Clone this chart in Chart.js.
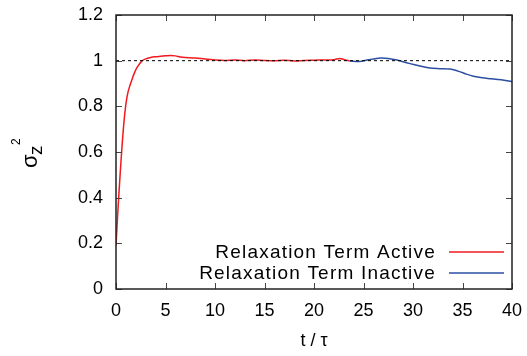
<!DOCTYPE html>
<html>
<head>
<meta charset="utf-8">
<script src="https://cdn.jsdelivr.net/npm/chart.js@4.4.0/dist/chart.umd.min.js"></script>
<style>
  html, body { margin: 0; padding: 0; background: #fff; }
</style>
</head>
<body>
<canvas id="myChart" width="527" height="356"></canvas>
<script>
// relaxation term active (red)
var tActive = [0, 0.2, 0.4, 0.6, 0.8, 1.0, 1.2, 1.4, 1.6, 1.8, 2.1, 2.6, 3, 3.5, 4, 4.5, 5, 5.5, 6, 6.5, 7, 8, 9, 10, 11, 12, 13, 14, 15, 16, 17, 18, 19, 20, 21, 22, 22.6, 23, 23.6];
var sActive = [0.19, 0.35, 0.49, 0.62, 0.73, 0.81, 0.86, 0.89, 0.915, 0.94, 0.968, 0.998, 1.008, 1.014, 1.017, 1.019, 1.021, 1.023, 1.021, 1.016, 1.014, 1.012, 1.007, 1.003, 1.001, 1.003, 1.0, 1.003, 1.001, 1.0, 1.002, 0.999, 1.001, 1.002, 1.003, 1.004, 1.01, 1.005, 0.999];
// relaxation term inactive (blue)
var tInactive = [23.6, 24.6, 25.5, 26.7, 27.5, 28.4, 29.0, 29.7, 30.7, 31.7, 32.7, 33.7, 34.7, 35.4, 36.1, 37.0, 37.9, 38.9, 40];
var sInactive = [0.999, 0.996, 1.004, 1.012, 1.010, 1.003, 0.995, 0.987, 0.977, 0.968, 0.965, 0.963, 0.952, 0.941, 0.932, 0.925, 0.921, 0.916, 0.908];
// reference line
var tRef = [0, 40];
var sRef = [1, 1];

var xTicks = [0, 5, 10, 15, 20, 25, 30, 35, 40];
var yTicks = [0, 0.2, 0.4, 0.6, 0.8, 1.0, 1.2];

function pts(xs, ys) {
  return xs.map(function (x, i) { return {x: x, y: ys[i]}; });
}

var FONT = '"Liberation Sans", Arial, sans-serif';

// frame + inward ticks on all four sides
var framePlugin = {
  id: 'frame',
  afterDatasetsDraw: function (chart) {
    var ctx = chart.ctx, a = chart.chartArea;
    var xs = chart.scales.x, ys = chart.scales.y;
    ctx.save();
    ctx.strokeStyle = '#444';
    ctx.lineWidth = 1;
    ctx.beginPath();
    xTicks.forEach(function (v) {
      var px = Math.round(xs.getPixelForValue(v)) + 0.5;
      ctx.moveTo(px, a.bottom); ctx.lineTo(px, a.bottom - 6);
      ctx.moveTo(px, a.top); ctx.lineTo(px, a.top + 6);
    });
    yTicks.forEach(function (v) {
      var py = Math.round(ys.getPixelForValue(v)) + 0.5;
      ctx.moveTo(a.left, py); ctx.lineTo(a.left + 6, py);
      ctx.moveTo(a.right, py); ctx.lineTo(a.right - 6, py);
    });
    ctx.stroke();
    ctx.strokeStyle = '#222';
    ctx.lineWidth = 1.5;
    ctx.strokeRect(a.left, a.top, a.right - a.left, a.bottom - a.top);
    ctx.restore();
  }
};

// gnuplot style key: text right aligned, sample line after it
var keyPlugin = {
  id: 'key',
  afterDraw: function (chart) {
    var ctx = chart.ctx, a = chart.chartArea;
    var items = chart.data.datasets.filter(function (d) { return d.label; });
    ctx.save();
    ctx.font = '19px ' + FONT;
    ctx.letterSpacing = '1.2px';
    ctx.textAlign = 'right';
    ctx.textBaseline = 'middle';
    items.forEach(function (d, i) {
      var y = a.bottom - 37 + i * 21;
      ctx.fillStyle = '#000';
      ctx.fillText(d.label, a.right - 76, y + 1);
      ctx.strokeStyle = d.borderColor;
      ctx.lineWidth = 1.5;
      ctx.beginPath();
      ctx.moveTo(a.right - 63, y);
      ctx.lineTo(a.right - 8, y);
      ctx.stroke();
    });
    ctx.restore();
  }
};

// y axis title: sigma with z subscript and 2 superscript, rotated
var yTitlePlugin = {
  id: 'ytitle',
  afterDraw: function (chart) {
    var ctx = chart.ctx;
    ctx.save();
    ctx.translate(37, 168);
    ctx.rotate(-Math.PI / 2);
    ctx.fillStyle = '#000';
    ctx.textAlign = 'left';
    ctx.textBaseline = 'alphabetic';
    ctx.font = '22px ' + FONT;
    ctx.fillText('σ', 0, 0);
    ctx.font = '19px ' + FONT;
    ctx.fillText('z', 13, 5);
    ctx.font = '12px ' + FONT;
    ctx.fillText('2', 23, -17);
    ctx.restore();
  }
};

var ctx = document.getElementById('myChart').getContext('2d');
var myChart = new Chart(ctx, {
  type: 'scatter',
  data: {
    datasets: [{
      label: 'Relaxation Term Active',
      data: pts(tActive, sActive),
      showLine: true,
      borderColor: '#f01a1f',
      borderWidth: 1.5,
      pointRadius: 0,
      tension: 0.3,
      order: 2
    }, {
      label: 'Relaxation Term Inactive',
      data: pts(tInactive, sInactive),
      showLine: true,
      borderColor: '#2c4ea2',
      borderWidth: 1.5,
      pointRadius: 0,
      tension: 0.3,
      order: 2
    }, {
      label: '',
      data: pts(tRef, sRef),
      showLine: true,
      borderColor: '#000',
      borderWidth: 1,
      borderDash: [3, 3],
      pointRadius: 0,
      order: 1
    }]
  },
  options: {
    responsive: false,
    maintainAspectRatio: false,
    animation: false,
    layout: { padding: { top: 15, right: 15, left: 0, bottom: 0 } },
    plugins: {
      legend: { display: false },
      tooltip: { enabled: false }
    },
    scales: {
      x: {
        type: 'linear',
        min: 0,
        max: 40,
        afterBuildTicks: function (s) { s.ticks = xTicks.map(function (v) { return {value: v}; }); },
        afterFit: function (s) { s.height = 67; s.paddingLeft = 0; s.paddingRight = 0; },
        grid: { display: false, drawTicks: false },
        border: { display: false },
        ticks: { padding: 11, maxRotation: 0, color: '#000', font: { family: FONT, size: 18 } },
        title: {
          display: true,
          text: 't / τ',
          color: '#000',
          font: { family: FONT, size: 18 },
          padding: { top: 0, bottom: 4 }
        }
      },
      y: {
        min: 0,
        max: 1.2,
        afterBuildTicks: function (s) { s.ticks = yTicks.map(function (v) { return {value: v}; }); },
        afterFit: function (s) { s.width = 116; s.paddingTop = 0; s.paddingBottom = 0; },
        grid: { display: false, drawTicks: false },
        border: { display: false },
        ticks: {
          padding: 13,
          color: '#000',
          font: { family: FONT, size: 18 },
          callback: function (v) { return String(+v.toFixed(1)); }
        }
      }
    }
  },
  plugins: [framePlugin, keyPlugin, yTitlePlugin]
});
</script>
</body>
</html>
